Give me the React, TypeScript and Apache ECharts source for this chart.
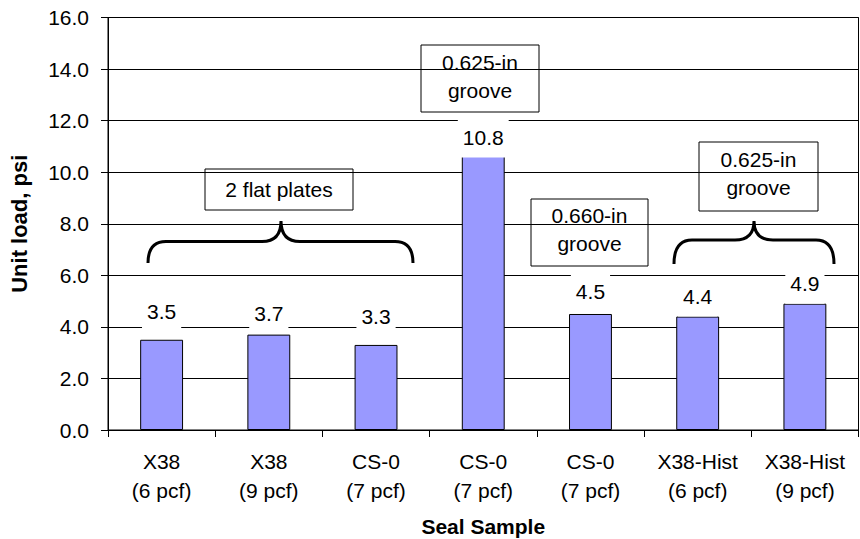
import React, { useEffect, useRef } from 'react';
import * as echarts from 'echarts';

const categories = [
  'X38\n(6 pcf)',
  'X38\n(9 pcf)',
  'CS-0\n(7 pcf)',
  'CS-0\n(7 pcf)',
  'CS-0\n(7 pcf)',
  'X38-Hist\n(6 pcf)',
  'X38-Hist\n(9 pcf)',
];
const unitLoad = [3.5, 3.7, 3.3, 10.8, 4.5, 4.4, 4.9];
const labelNudges = [-8, -1, -8, 6, -2, 0, 0];
const yMin = 0;
const yMax = 16;
const yStep = 2;

const FONT = '"Liberation Sans", Arial, sans-serif';

function bracePath(x1: number, xc: number, x2: number, yb: number, ym: number, yt: number, r: number, r2: number) {
  return [
    `M ${x1} ${yb}`,
    `Q ${x1} ${ym} ${x1 + r} ${ym}`,
    `L ${xc - r2} ${ym}`,
    `Q ${xc} ${ym} ${xc} ${yt}`,
    `Q ${xc} ${ym} ${xc + r2} ${ym}`,
    `L ${x2 - r} ${ym}`,
    `Q ${x2} ${ym} ${x2} ${yb}`,
  ].join(' ');
}

echarts.graphic.registerShape('braceA', echarts.graphic.extendPath(bracePath(148, 281, 413, 263, 241.5, 221, 18, 19), {}));
echarts.graphic.registerShape('braceB', echarts.graphic.extendPath(bracePath(674, 754, 834, 264, 240, 221, 18, 19), {}));

function box(x: number, y: number, w: number, h: number, text: string, ty: number) {
  return {
    type: 'group',
    z: 50,
    children: [
      { type: 'rect', shape: { x, y, width: w, height: h }, style: { fill: '#fff', stroke: '#000', lineWidth: 1 } },
      {
        type: 'text',
        x: x + w / 2,
        y: ty,
        style: { text, fill: '#000', font: `21px ${FONT}`, align: 'center', verticalAlign: 'middle', lineHeight: 28 },
      },
    ],
  };
}

export default function App() {
  const ref = useRef<HTMLDivElement>(null);
  useEffect(() => {
    if (!ref.current) return;
    const chart = echarts.init(ref.current, null, { renderer: 'svg' });
    chart.setOption({
      animation: false,
      backgroundColor: '#fff',
      grid: {
        left: 108, right: 1.5, top: 17.5, bottom: 109,
        containLabel: false, outerBoundsMode: 'none',
        show: true, borderColor: '#000', borderWidth: 1,
      },
      xAxis: {
        type: 'category',
        data: categories,
        name: 'Seal Sample',
        nameLocation: 'middle',
        nameGap: 86,
        nameTextStyle: { fontFamily: FONT, fontSize: 21, fontWeight: 'bold', color: '#000', lineHeight: 21 },
        axisLine: { lineStyle: { color: '#000', width: 1 } },
        axisTick: { show: true, length: 7, lineStyle: { color: '#000' } },
        axisLabel: { fontFamily: FONT, fontSize: 21, color: '#000', lineHeight: 29, margin: 17, interval: 0 },
      },
      yAxis: {
        type: 'value',
        min: yMin,
        max: yMax,
        interval: yStep,
        name: 'Unit load, psi',
        nameLocation: 'middle',
        nameGap: 78,
        nameRotate: 90,
        nameTextStyle: { fontFamily: FONT, fontSize: 22, fontWeight: 'bold', color: '#000' },
        axisLine: { show: true, lineStyle: { color: '#000', width: 1 } },
        axisTick: { show: true, length: 7, lineStyle: { color: '#000' } },
        axisLabel: { fontFamily: FONT, fontSize: 21, color: '#000', margin: 19, formatter: (v: number) => v.toFixed(1) },
        splitLine: { show: true, lineStyle: { color: '#000', width: 1 } },
      },
      series: [
        {
          type: 'bar',
          barWidth: '40%',
          data: unitLoad.map((v, i) => ({ value: v, label: { offset: [0, labelNudges[i]] } })),
          itemStyle: { color: '#9999FF', borderColor: '#000', borderWidth: 1 },
          label: {
            show: true,
            position: 'top',
            distance: 0,
            fontFamily: FONT,
            fontSize: 21,
            color: '#000',
            backgroundColor: '#fff',
            padding: [9, 5, 9, 5],
            lineHeight: 22,
            formatter: (p: any) => Number(p.value).toFixed(1),
          },
        },
      ],
      graphic: [
        box(205, 169, 148, 41, '2 flat plates', 189.5),
        box(421, 45, 118, 67, '0.625-in\ngroove', 76),
        box(531, 199, 117, 67, '0.660-in\ngroove', 229),
        box(699, 142, 119, 69, '0.625-in\ngroove', 173),
        { type: 'braceA', z: 50, x: 0, y: 0, style: { fill: 'none', stroke: '#000', lineWidth: 3 } },
        { type: 'braceB', z: 50, x: 0, y: 0, style: { fill: 'none', stroke: '#000', lineWidth: 3 } },
      ],
    });
    return () => chart.dispose();
  }, []);
  return <div ref={ref} style={{ width: 860, height: 539, position: 'absolute', left: 0, top: 0 }} />;
}
